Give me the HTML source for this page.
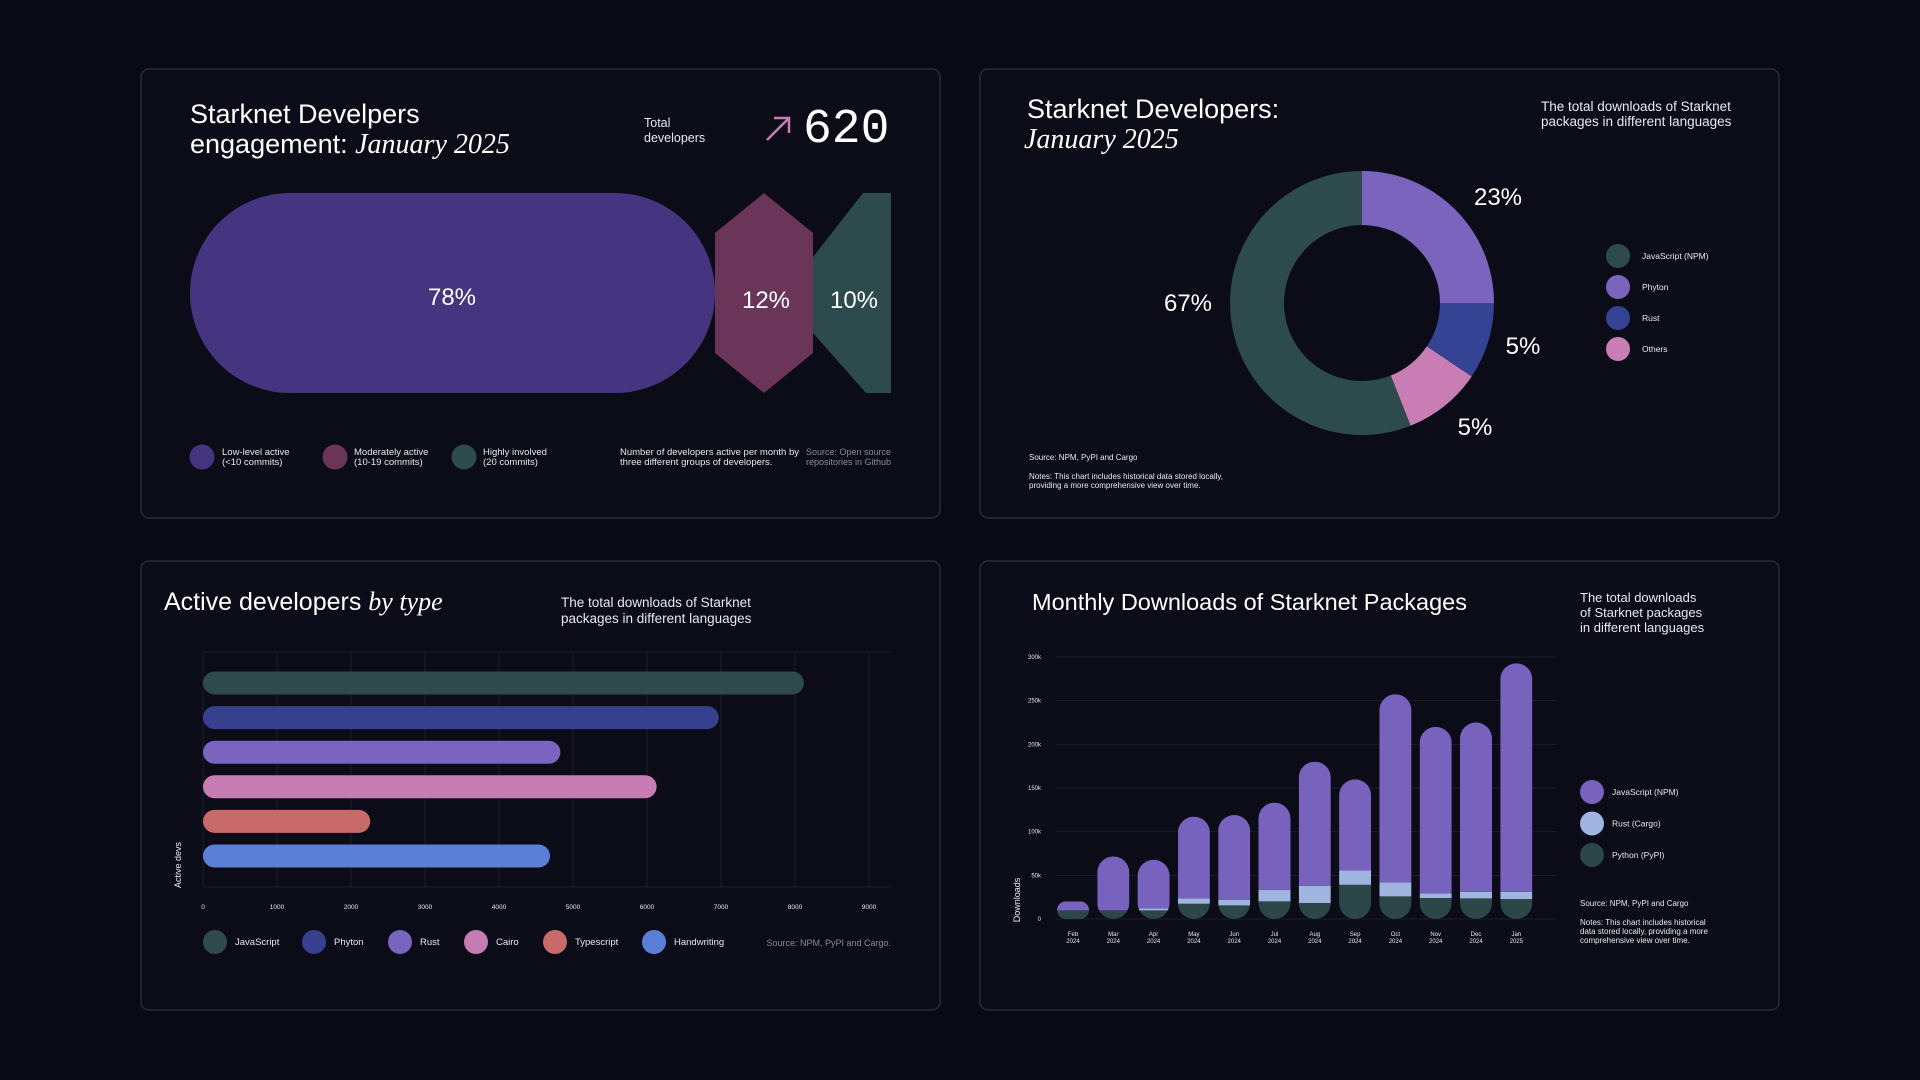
<!DOCTYPE html>
<html><head><meta charset="utf-8"><style>
html,body{margin:0;padding:0;background:#0a0a15;width:1920px;height:1080px;overflow:hidden}
svg{display:block}
text{font-family:"Liberation Sans",sans-serif;fill:#fff}
.serif{font-family:"Liberation Serif",serif;font-style:italic}
.sm{fill:#e8e8f0}
.gray{fill:#8a8a98}
</style></head><body>
<svg id="s" width="1920" height="1080" xmlns="http://www.w3.org/2000/svg">
<!-- Cards -->
<rect x="141" y="69" width="799" height="449" rx="8" fill="#0c0c19" stroke="#2b2b3b" stroke-width="1.5"/>
<rect x="980" y="69" width="799" height="449" rx="8" fill="#0c0c19" stroke="#2b2b3b" stroke-width="1.5"/>
<rect x="141" y="561" width="799" height="449" rx="8" fill="#0c0c19" stroke="#2b2b3b" stroke-width="1.5"/>
<rect x="980" y="561" width="799" height="449" rx="8" fill="#0c0c19" stroke="#2b2b3b" stroke-width="1.5"/>

<!-- Panel 1 -->
<g>
<text x="190" y="123" font-size="27">Starknet Develpers</text>
<text x="190" y="153" font-size="27">engagement: <tspan class="serif" font-size="28">January 2025</tspan></text>
<text x="644" y="127" font-size="12.5" class="sm">Total</text>
<text x="644" y="142" font-size="12.5" class="sm">developers</text>
<g stroke="#c77db3" stroke-width="2.5" fill="none"><line x1="767" y1="140" x2="789" y2="118"/><polyline points="774,118 789,118 789,133"/></g>
<text x="803" y="142" font-size="48" font-family="Liberation Mono, monospace" style="font-family:'Liberation Mono',monospace">620</text>
<rect x="190" y="193" width="525" height="200" rx="100" fill="#45347f"/>
<polygon points="715,233 764,193 813,233 813,353 764,393 715,353" fill="#6a3558"/>
<polygon points="813,257 863,193 891,193 891,393 866,393 813,333" fill="#2d4a4d"/>
<text x="452" y="305" font-size="24" text-anchor="middle">78%</text>
<text x="766" y="308" font-size="24" text-anchor="middle">12%</text>
<text x="854" y="308" font-size="24" text-anchor="middle">10%</text>
<circle cx="202" cy="457" r="12.5" fill="#45347f"/>
<text x="222" y="455" font-size="9.5" class="sm">Low-level active</text>
<text x="222" y="465" font-size="9.5" class="sm">(&lt;10 commits)</text>
<circle cx="335" cy="457" r="12.5" fill="#6a3558"/>
<text x="354" y="455" font-size="9.5" class="sm">Moderately active</text>
<text x="354" y="465" font-size="9.5" class="sm">(10-19 commits)</text>
<circle cx="464" cy="457" r="12.5" fill="#2d4a4d"/>
<text x="483" y="455" font-size="9.5" class="sm">Highly involved</text>
<text x="483" y="465" font-size="9.5" class="sm">(20 commits)</text>
<text x="620" y="455" font-size="9.5" class="sm">Number of developers active per month by</text>
<text x="620" y="465" font-size="9.5" class="sm">three different groups of developers.</text>
<text x="891" y="455" font-size="9" class="gray" text-anchor="end">Source: Open source</text>
<text x="891" y="465" font-size="9" class="gray" text-anchor="end">repositories in Github</text>
</g>

<!-- Panel 2 -->
<g>
<text x="1027" y="118" font-size="27">Starknet Developers:</text>
<text x="1024" y="148" font-size="28" class="serif">January 2025</text>
<text x="1541" y="111" font-size="13.5" class="sm">The total downloads of Starknet</text>
<text x="1541" y="126" font-size="13.5" class="sm">packages in different languages</text>
<g id="donut"></g>
<g id="donutLegend"></g>
<text x="1029" y="460" font-size="8" class="sm">Source: NPM, PyPI and Cargo</text>
<text x="1029" y="479" font-size="8" class="sm">Notes: This chart includes historical data stored locally,</text>
<text x="1029" y="488" font-size="8" class="sm">providing a more comprehensive view over time.</text>
</g>

<!-- Panel 3 -->
<g>
<text x="164" y="610" font-size="25">Active developers <tspan class="serif" font-size="26">by type</tspan></text>
<text x="561" y="607" font-size="13.5" class="sm">The total downloads of Starknet</text>
<text x="561" y="623" font-size="13.5" class="sm">packages in different languages</text>
<g id="hbar"></g>
<text transform="translate(181,865) rotate(-90)" font-size="9" class="sm" text-anchor="middle">Active devs</text>
<text x="891" y="946" font-size="9" class="gray" text-anchor="end">Source: NPM, PyPI and Cargo.</text>
</g>

<!-- Panel 4 -->
<g>
<text x="1032" y="610" font-size="23.5">Monthly Downloads of Starknet Packages</text>
<text x="1580" y="602" font-size="13" class="sm">The total downloads</text>
<text x="1580" y="617" font-size="13" class="sm">of Starknet packages</text>
<text x="1580" y="632" font-size="13" class="sm">in different languages</text>
<g id="vbar"></g>
<text transform="translate(1020,900) rotate(-90)" font-size="9" class="sm" text-anchor="middle">Downloads</text>
<g id="vLegend"></g>
<text x="1580" y="906" font-size="8" class="sm">Source: NPM, PyPI and Cargo</text>
<text x="1580" y="925" font-size="8" class="sm">Notes: This chart includes historical</text>
<text x="1580" y="934" font-size="8" class="sm">data stored locally, providing a more</text>
<text x="1580" y="943" font-size="8" class="sm">comprehensive view over time.</text>
</g>
</svg>
<script>
const NS='http://www.w3.org/2000/svg';
// Donut data
const donutLabels=['Phyton','Rust','Others','JavaScript (NPM)'];
const donutValues=[25,9.4,9.6,56];
const donutPrinted=['23%','5%','5%','67%'];
const donutColors=['#7a64be','#354394','#c97db5','#2d4a4d'];
const legendDonutLabels=['JavaScript (NPM)','Phyton','Rust','Others'];
const legendDonutColors=['#2d4a4d','#7a64be','#354394','#c97db5'];
// Horizontal bars
const hbarCategories=['JavaScript','Phyton','Rust','Cairo','Typescript','Handwriting'];
const hbarValues=[8120,6970,4830,6130,2260,4690];
const hbarColors=['#2e4a4c','#36408f','#7964bf','#c67db3','#c96a6a','#5b7fd6'];
const hbarTicks=[0,1000,2000,3000,4000,5000,6000,7000,8000,9000];
// Stacked bars
const months=['Feb','Mar','Apr','May','Jun','Jul','Aug','Sep','Oct','Nov','Dec','Jan'];
const years=['2024','2024','2024','2024','2024','2024','2024','2024','2024','2024','2024','2025'];
const pythonVals=[9.9,9.9,9.9,17.5,15.6,20.2,18.3,39.2,25.9,24,23.6,22.8];
const rustVals=[0,0,2.3,6.1,6.5,13.3,19.8,16.4,16,5.3,7.6,8.4];
const npmVals=[10.3,61.7,55.6,93.6,97,99.7,142,104.3,215.4,190.7,193.8,261.5];
const yTicks=[0,50,100,150,200,250,300];
const yTickLabels=['0','50k','100k','150k','200k','250k','300k'];

function el(tag,attrs,parent){const e=document.createElementNS(NS,tag);for(const k in attrs)e.setAttribute(k,attrs[k]);parent.appendChild(e);return e;}

// Donut
(function(){
 const g=document.getElementById('donut');
 const cx=1362,cy=303,R=132,r=78;
 const total=donutValues.reduce((a,b)=>a+b,0);
 let a0=0;
 const labelPos=[[1498,205],[1523,354],[1475,435],[1188,311]];
 donutValues.forEach((v,i)=>{
  const a1=a0+v/total*2*Math.PI;
  const p=(ang,rad)=>[cx+rad*Math.sin(ang),cy-rad*Math.cos(ang)];
  const [x0,y0]=p(a0,R),[x1,y1]=p(a1,R),[x2,y2]=p(a1,r),[x3,y3]=p(a0,r);
  const large=(a1-a0)>Math.PI?1:0;
  const path=el('path',{d:`M${x0},${y0}A${R},${R} 0 ${large} 1 ${x1},${y1}L${x2},${y2}A${r},${r} 0 ${large} 0 ${x3},${y3}Z`,fill:donutColors[i]},g);
  
  
  const t=el('text',{x:labelPos[i][0],y:labelPos[i][1],'font-size':24,'text-anchor':'middle'},g);
  t.textContent=donutPrinted[i];
  
  
  a0=a1;
 });
 const lg=document.getElementById('donutLegend');
 legendDonutLabels.forEach((l,i)=>{
  const c=el('circle',{cx:1618,cy:256+i*31,r:12,fill:legendDonutColors[i]},lg);
  
  
  const t=el('text',{x:1642,y:259+i*31,'font-size':8.5,class:'sm'},lg);
  t.textContent=l;
  
  
 });
})();

// Horizontal bars
(function(){
 const g=document.getElementById('hbar');
 const x=v=>203+v*(869-203)/9000;
 const y0=683,step=34.6,h=23;
 el('line',{x1:203,y1:652,x2:891,y2:652,stroke:'#1c1c2a','stroke-width':1},g);
 el('line',{x1:203,y1:887,x2:891,y2:887,stroke:'#1c1c2a','stroke-width':1},g);
 hbarTicks.forEach(t=>{
  const l=el('line',{x1:x(t),y1:652,x2:x(t),y2:887,stroke:'#1c1c2a','stroke-width':1},g);
  
  
  const tx=el('text',{x:x(t),y:909,'font-size':6.5,'text-anchor':'middle',class:'sm'},g);
  tx.textContent=t;
  
  
 });
 hbarValues.forEach((v,i)=>{
  const b=el('rect',{x:x(0),y:y0+i*step-h/2,width:x(v)-x(0),height:h,rx:h/2,fill:hbarColors[i]},g);
  
  
 });
 const lx=[215,314,400,476,555,654];
 hbarCategories.forEach((c,i)=>{
  const ci=el('circle',{cx:lx[i],cy:942,r:12,fill:hbarColors[i]},g);
  
  
  const t=el('text',{x:lx[i]+20,y:945,'font-size':9.5,class:'sm'},g);
  t.textContent=c;
  
  
 });
})();

// Stacked bars
(function(){
 const g=document.getElementById('vbar');
 const y=v=>919-v*(919-657)/300;
 const x=i=>1073+i*40.3;
 const w=32;
 yTicks.forEach((t,i)=>{
  const l=el('line',{x1:1056,y1:y(t),x2:1557,y2:y(t),stroke:'#1c1c2a','stroke-width':1},g);
  
  
  const tx=el('text',{x:1041,y:y(t)+2,'font-size':6,'text-anchor':'end',class:'sm'},g);
  tx.textContent=yTickLabels[i];
  
  
 });
 const defs=el('defs',{},g);
 months.forEach((m,i)=>{
  const total=pythonVals[i]+rustVals[i]+npmVals[i];
  const top=y(total),bottom=y(0),bx=x(i)-w/2;
  const rr=Math.min(w/2,(bottom-top)/2);
  const cp=el('clipPath',{id:'cp'+i},defs);
  el('rect',{x:bx,y:top,width:w,height:bottom-top,rx:rr},cp);
  const bg=el('g',{'clip-path':`url(#cp${i})`},g);
  
  
  const segs=[[pythonVals[i],'#2d4749','python'],[rustVals[i],'#a0b4e0','rust'],[npmVals[i],'#7762bd','npm']];
  let base=0;
  segs.forEach(s=>{
   const r=el('rect',{x:bx,y:y(base+s[0]),width:w,height:y(base)-y(base+s[0]),fill:s[1]},bg);
   
   
   base+=s[0];
  });
  const t1=el('text',{x:x(i),y:936,'font-size':6,'text-anchor':'middle',class:'sm'},g);
  t1.textContent=m;
  
  
  const t2=el('text',{x:x(i),y:943,'font-size':6,'text-anchor':'middle',class:'sm'},g);
  t2.textContent=years[i];
  
  
 });
 const lg=document.getElementById('vLegend');
 const ll=['JavaScript (NPM)','Rust (Cargo)','Python (PyPI)'],lc=['#7762bd','#a0b4e0','#2d4749'];
 ll.forEach((l,i)=>{
  const c=el('circle',{cx:1592,cy:792+i*31.5,r:12,fill:lc[i]},lg);
  
  
  const t=el('text',{x:1612,y:795+i*31.5,'font-size':8.5,class:'sm'},lg);
  t.textContent=l;
  
  
 });
})();
</script>
</body></html>
